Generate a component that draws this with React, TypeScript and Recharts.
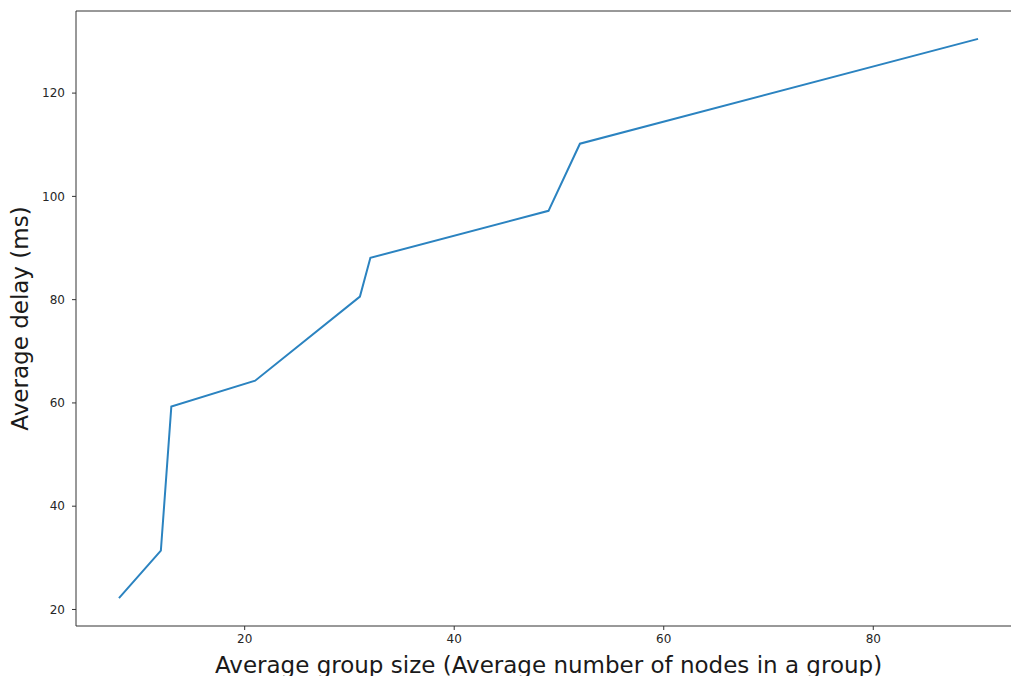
import React from "react";
import { LineChart, Line, XAxis, YAxis, ReferenceArea, Label } from "recharts";

const groupSize = [8, 12, 13, 21, 31, 32, 49, 52, 90];
const avgDelay = [22.2, 31.4, 59.3, 64.3, 80.6, 88.1, 97.2, 110.2, 130.5];
const xTicks = [20, 40, 60, 80];
const yTicks = [20, 40, 60, 80, 100, 120];

const data = groupSize.map((x, i) => ({ x, y: avgDelay[i] }));

const X_DOMAIN: [number, number] = [3.9, 94.1];
const Y_DOMAIN: [number, number] = [16.8, 135.9];
const font = "'DejaVu Sans', sans-serif";

export default function App() {
  return (
    <div style={{ position: "absolute", left: 0, top: 0, width: 1011, height: 676, overflow: "hidden", background: "#fff" }}>
      <LineChart width={1040} height={676} data={data} margin={{ top: 11, right: 19, bottom: 0, left: 16 }}>
        <XAxis
          dataKey="x"
          type="number"
          domain={X_DOMAIN}
          ticks={xTicks}
          allowDataOverflow
          height={50}
          axisLine={false}
          tickLine={{ stroke: "#333", strokeWidth: 1 }}
          tickSize={4}
          tickMargin={4}
          tick={{ fill: "#262626", fontSize: 12, fontFamily: font }}
        >
          <Label value="Average group size (Average number of nodes in a group)" position="insideBottom" offset={3} style={{ fontSize: 23, fontFamily: font, fill: "#1a1a1a" }} />
        </XAxis>
        <YAxis
          dataKey="y"
          type="number"
          domain={Y_DOMAIN}
          ticks={yTicks}
          allowDataOverflow
          width={60}
          axisLine={false}
          tickLine={{ stroke: "#333", strokeWidth: 1 }}
          tickSize={4}
          tickMargin={7}
          tick={{ fill: "#262626", fontSize: 12, fontFamily: font }}
        >
          <Label value="Average delay (ms)" angle={-90} position="insideLeft" offset={4} style={{ fontSize: 23, fontFamily: font, fill: "#1a1a1a", textAnchor: "middle" }} />
        </YAxis>
        <ReferenceArea x1={X_DOMAIN[0]} x2={X_DOMAIN[1]} y1={Y_DOMAIN[0]} y2={Y_DOMAIN[1]} fill="none" stroke="#333" strokeWidth={1} ifOverflow="visible" />
        <Line type="linear" dataKey="y" stroke="#2b83c0" strokeWidth={2} dot={false} isAnimationActive={false} />
      </LineChart>
    </div>
  );
}
